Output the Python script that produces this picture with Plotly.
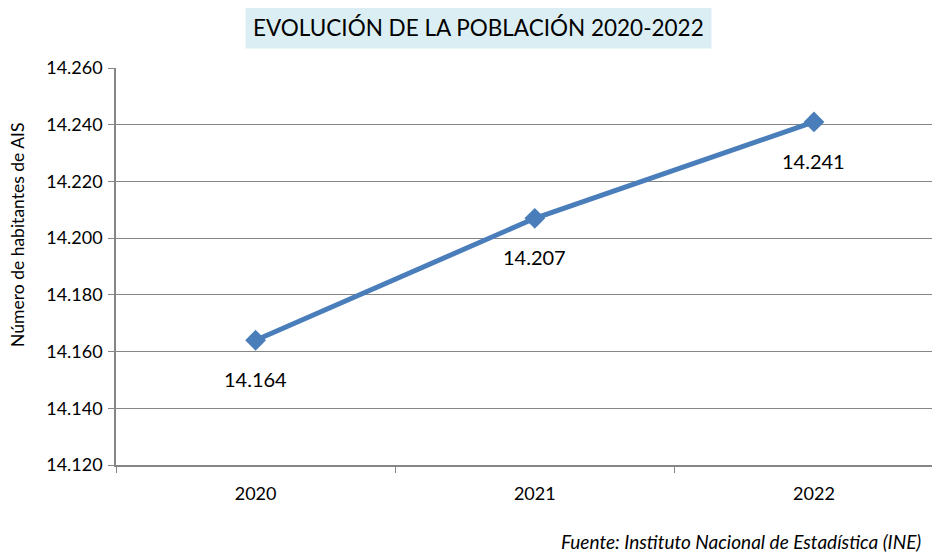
import plotly.graph_objects as go

years = ["2020", "2021", "2022"]
habitantes = [14164, 14207, 14241]
y_ticks = [14120, 14140, 14160, 14180, 14200, 14220, 14240, 14260]

title_text = "EVOLUCIÓN DE LA POBLACIÓN 2020-2022"
y_title = "Número de habitantes de AIS"
source_text = "Fuente: Instituto Nacional de Estadística (INE)"

FONT = "Lato"
GRAY = "#868686"


def fmt(v):
    return f"{v:,}".replace(",", ".")


fig = go.Figure(go.Scatter(
    x=years, y=habitantes,
    mode="lines+markers",
    line={"color": "#4A7EBB", "width": 5},
    marker={"symbol": "diamond", "size": 16, "color": "#4A7EBB"},
    cliponaxis=False,
))

# data labels under each point (category axis -> use the category index)
for i, val in enumerate(habitantes):
    fig.add_annotation(x=i, y=val, text=fmt(val), showarrow=False,
                       yshift=-39, font={"size": 20, "family": FONT})

# page body has an 8px margin, so margins are shifted by 8
fig.update_layout(
    width=940, height=552,
    margin={"l": 108, "r": 0, "t": 60, "b": 95},
    paper_bgcolor="white", plot_bgcolor="white",
    font={"family": FONT, "size": 18, "color": "#000000"},
    showlegend=False,
)

fig.update_xaxes(
    type="category", range=[-0.5, 2.48],
    showline=True, linecolor=GRAY, linewidth=1.5,
    ticks="outside", tickson="boundaries", ticklen=6, tickcolor=GRAY,
    showgrid=False, tickfont={"size": 18}, ticklabelstandoff=12,
)
fig.update_yaxes(
    range=[14120, 14260], tickvals=y_ticks,
    ticktext=[fmt(v) for v in y_ticks],
    showline=True, linecolor=GRAY, linewidth=1.5,
    ticks="outside", ticklen=6, tickcolor=GRAY,
    showgrid=True, gridcolor=GRAY, gridwidth=1, zeroline=False,
    tickfont={"size": 18}, ticklabelstandoff=2,
)

fig.add_annotation(
    text=title_text, xref="paper", yref="paper",
    x=(478 - 116) / 831, y=1 + (68 - 28) / 397, xanchor="center", yanchor="middle",
    showarrow=False, font={"size": 22.5, "family": FONT},
    bgcolor="#DBEEF3", borderpad=7,
)
fig.add_annotation(
    text=y_title, xref="paper", yref="paper", textangle=-90,
    x=-(116 - 18) / 831, y=(465 - 235) / 397, xanchor="center", yanchor="middle",
    showarrow=False, font={"size": 17.5, "family": FONT},
)
fig.add_annotation(
    text=f"<i>{source_text}</i>", xref="paper", yref="paper",
    x=(922 - 116) / 831, y=-(541 - 465) / 397, xanchor="right", yanchor="middle",
    showarrow=False, font={"size": 19, "family": FONT},
)

fig.write_html("out.html")
